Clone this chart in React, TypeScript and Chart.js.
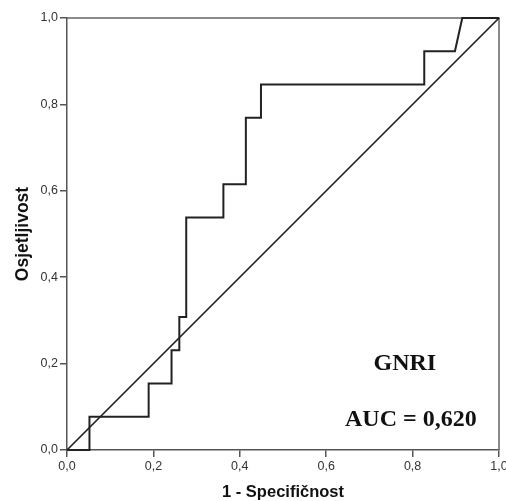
import React, { useEffect, useRef } from "react";
import { Chart, registerables } from "chart.js";

Chart.register(...registerables);

// ROC curve corner points (1 - specificity, sensitivity)
const fpr = [0, 0.052, 0.052, 0.189, 0.189, 0.242, 0.242, 0.26, 0.26, 0.276, 0.276, 0.362, 0.362, 0.414, 0.414, 0.449, 0.449, 0.827, 0.827, 0.898, 0.915, 1];
const tpr = [0, 0, 0.077, 0.077, 0.154, 0.154, 0.231, 0.231, 0.308, 0.308, 0.538, 0.538, 0.615, 0.615, 0.769, 0.769, 0.846, 0.846, 0.923, 0.923, 1, 1];
const refX = [0, 1];
const refY = [0, 1];
const tickValues = [0, 0.2, 0.4, 0.6, 0.8, 1];
const xTitle = "1 - Specifičnost";
const yTitle = "Osjetljivost";
const labelName = "GNRI";
const labelAuc = "AUC = 0,620";

const fmt = (v: number) => Number(v).toFixed(1).replace(".", ",");

export default function App() {
  const ref = useRef<HTMLCanvasElement | null>(null);
  useEffect(() => {
    if (!ref.current) return;
    const framePlugin = {
      id: "frame",
      beforeDatasetsDraw(chart: any) {
        const { ctx, chartArea: a } = chart;
        ctx.save();
        ctx.strokeStyle = "#666";
        ctx.lineWidth = 1.5;
        ctx.beginPath();
        ctx.moveTo(a.left, a.top);
        ctx.lineTo(a.right, a.top);
        ctx.lineTo(a.right, a.bottom);
        ctx.stroke();
        ctx.restore();
      },
    };
    const textPlugin = {
      id: "aucText",
      afterDraw(chart: any) {
        const { ctx, scales } = chart;
        ctx.save();
        ctx.fillStyle = "#111";
        ctx.textAlign = "center";
        ctx.textBaseline = "alphabetic";
        ctx.font = "bold 24px 'Liberation Serif', 'Times New Roman', serif";
        ctx.fillText(labelName, scales.x.getPixelForValue(0.782), scales.y.getPixelForValue(0.185));
        ctx.fillText(labelAuc, scales.x.getPixelForValue(0.796), scales.y.getPixelForValue(0.056));
        ctx.restore();
      },
    };
    const chart = new Chart(ref.current, {
      type: "scatter",
      data: {
        datasets: [
          {
            data: fpr.map((x, i) => ({ x, y: tpr[i] })),
            showLine: true,
            borderColor: "#222",
            borderWidth: 2,
            pointRadius: 0,
            fill: false,
            clip: false as any,
          },
          {
            data: refX.map((x, i) => ({ x, y: refY[i] })),
            showLine: true,
            borderColor: "#222",
            borderWidth: 1.7,
            pointRadius: 0,
            fill: false,
            clip: false as any,
          },
        ],
      },
      options: {
        animation: false,
        responsive: false,
        layout: { padding: { left: 0, right: 7, top: 18, bottom: 0 } },
        plugins: { legend: { display: false }, tooltip: { enabled: false } },
        scales: {
          x: {
            type: "linear",
            position: "bottom",
            min: 0,
            max: 1,
            afterBuildTicks: (s: any) => {
              s.ticks = tickValues.map((v) => ({ value: v }));
            },
            afterFit: (s: any) => {
              s.height = 51;
              s.paddingLeft = 0;
              s.paddingRight = 0;
            },
            ticks: {
              callback: (v: any) => fmt(v),
              font: { family: "'Liberation Sans', Arial, sans-serif", size: 12.5 },
              color: "#333",
              padding: 2,
              maxRotation: 0,
              autoSkip: false,
            },
            grid: { drawOnChartArea: false, drawTicks: true, tickLength: 7, color: "#555", lineWidth: 1.5 },
            border: { display: true, color: "#555", width: 1.5 },
            title: {
              display: true,
              text: xTitle,
              color: "#111",
              font: { family: "'Liberation Sans', Arial, sans-serif", size: 16.5, weight: "bold", lineHeight: 1 },
              padding: { top: 0, bottom: 0 },
            },
          },
          y: {
            type: "linear",
            min: 0,
            max: 1,
            afterBuildTicks: (s: any) => {
              s.ticks = tickValues.map((v) => ({ value: v }));
            },
            afterFit: (s: any) => {
              s.width = 67;
              s.paddingTop = 0;
              s.paddingBottom = 0;
            },
            ticks: {
              callback: (v: any) => fmt(v),
              font: { family: "'Liberation Sans', Arial, sans-serif", size: 12.5 },
              color: "#333",
              padding: 2,
              autoSkip: false,
            },
            grid: { drawOnChartArea: false, drawTicks: true, tickLength: 7, color: "#555", lineWidth: 1.5 },
            border: { display: true, color: "#555", width: 1.5 },
            title: {
              display: true,
              text: yTitle,
              color: "#111",
              font: { family: "'Liberation Sans', Arial, sans-serif", size: 17.5, weight: "bold", lineHeight: 1 },
              padding: { top: 14, bottom: 0 },
            },
          },
        },
      } as any,
      plugins: [framePlugin, textPlugin],
    });
    return () => chart.destroy();
  }, []);
  return (
    <div style={{ position: "absolute", left: 0, top: 0, width: 506, height: 501, background: "#fff" }}>
      <canvas ref={ref} width={506} height={501} style={{ display: "block" }} />
    </div>
  );
}
